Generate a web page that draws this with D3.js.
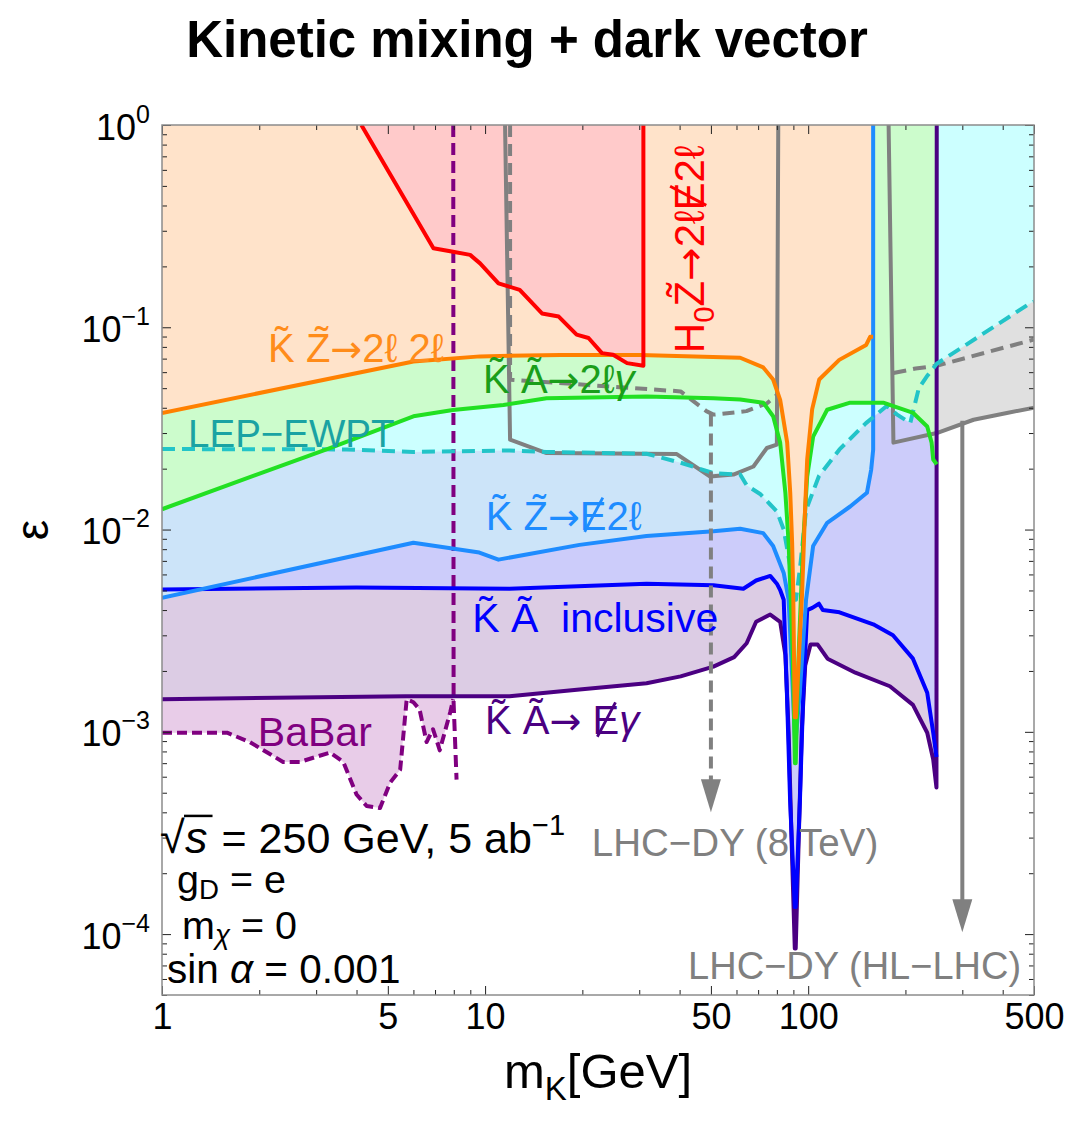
<!DOCTYPE html>
<html>
<head>
<meta charset="utf-8">
<script src="https://cdn.jsdelivr.net/npm/d3@7"></script>
<style>
  body { margin: 0; background: #fff; }
  svg { display: block; }
  text { font-family: "Liberation Sans", Arial, "DejaVu Sans", sans-serif; }
</style>
</head>
<body>
<svg id="chart" width="1073" height="1121"></svg>
<script>
// ---- reach curves: [m_K in GeV, epsilon] ----
const hzMissing = [[4.14,1],[6.92,0.246],[7.88,0.237],[8.99,0.228],[9.65,0.207],[11.0,0.165],[12.8,0.153],[15.0,0.117],[16.9,0.113],[19.2,0.092],[20.9,0.0885],[23.0,0.0745],[24.9,0.0731],[27.5,0.0665],[30.9,0.0645],[30.9,1]];
const kzFourLepton = [[1,0.0377],[6.0,0.0678],[9.65,0.0718],[17.1,0.0730],[30.2,0.0730],[61.6,0.0707],[72.6,0.0633],[77.9,0.0552],[81.9,0.0438],[86.1,0.0269],[88.0,0.0152],[89.2,0.0086],[89.9,0.0049],[90.9,0.00118],[91.6,0.00118],[95.8,0.0049],[97.8,0.0125],[99.3,0.0222],[102.9,0.0394],[108.2,0.0552],[124.8,0.0690],[151.2,0.0818],[155.5,0.0897],[158.9,0.0897]];
const kaLeptonPhoton = [[1,0.0126],[3.31,0.0253],[6.0,0.0363],[7.95,0.039],[11.4,0.0413],[15.5,0.0446],[31.6,0.0455],[50.9,0.0446],[61.6,0.0440],[72.6,0.0424],[77.9,0.0363],[81.9,0.0269],[85,0.0152],[87,0.0086],[89.5,0.0025],[91.0,0.0007],[91.5,0.0007],[93.5,0.0025],[96.5,0.0086],[99.3,0.0183],[103.6,0.0288],[114.5,0.0391],[134.9,0.0424],[170.7,0.0424],[211.4,0.0377],[233.6,0.0323],[241,0.0269],[243.8,0.0222],[250,0.021]];
const lepEwpt = [[1,0.025],[3.73,0.0249],[6,0.0242],[11.9,0.0246],[15.5,0.0242],[31.6,0.0237],[40.3,0.0214],[50.9,0.0190],[61.6,0.0187],[64.6,0.0165],[71,0.0150],[76.3,0.0133],[80,0.0123],[84,0.0100],[88,0.0066],[90.7,0.0045],[91.7,0.0045],[94.5,0.0066],[98.5,0.0125],[108,0.0184],[125,0.0249],[151,0.0336],[175,0.0408],[188,0.0371],[207,0.0336],[220,0.050],[233,0.0572],[250,0.066],[487,0.1316],[500,0.134]];
const kzMissingLepton = [[1,0.0046],[6.0,0.0086],[9.6,0.0077],[11,0.0071],[19.6,0.0084],[31.6,0.0093],[50.9,0.0098],[61.6,0.0101],[72.6,0.0096],[77.9,0.0083],[84,0.0061],[87,0.0045],[89.8,0.0015],[91.1,0.0009],[91.4,0.0009],[94,0.0015],[98.5,0.0045],[103.6,0.0083],[114.5,0.0108],[134.9,0.0130],[152,0.0152],[156.7,0.0198],[158.9,0.0248],[158.9,1]];
const kaInclusive = [[1,0.00506],[4.0,0.00517],[11.9,0.0051],[31.6,0.0054],[50.9,0.0053],[63,0.0051],[69,0.0056],[76.3,0.0059],[80,0.0054],[82,0.0050],[84,0.0045],[86,0.0015],[87.9,0.00046],[90.9,0.000136],[91.5,0.000136],[94.3,0.00046],[96.5,0.0015],[99.3,0.0040],[103,0.0041],[108,0.0043],[111,0.0040],[125,0.0039],[159,0.0034],[183,0.0030],[211,0.0023],[233.6,0.00156],[243.8,0.00099],[249.5,0.00075],[250,1]];
const kaMissingPhoton = [[1,0.00145],[5.7,0.0015],[11.9,0.0015],[19.6,0.00162],[31.6,0.00174],[40.3,0.00188],[50.9,0.0021],[59,0.00234],[64.5,0.00274],[69,0.0035],[76.3,0.0038],[81.9,0.0035],[85,0.0024],[87,0.0010],[88.8,0.0003],[90.9,0.000085],[91.5,0.000085],[93.5,0.0003],[95.5,0.0010],[97.9,0.00213],[101.7,0.0027],[107,0.0027],[114.8,0.0023],[140,0.00196],[179,0.00168],[211,0.00136],[233.6,0.00099],[243.8,0.00073],[249.5,0.00053],[250,1]];
const babar = [[1,0.00099],[1.59,0.00099],[1.87,0.00089],[2.37,0.00071],[2.67,0.00071],[3.31,0.00079],[3.64,0.00071],[4.0,0.00049],[4.3,0.00043],[4.73,0.00042],[5.08,0.00056],[5.46,0.00065],[5.72,0.00145],[6.0,0.0014],[6.27,0.00129],[6.59,0.00089],[6.9,0.00103],[7.24,0.00081],[7.8,0.00125],[7.97,0.00145]];
const babarEdge = [[7.97,1],[7.99,0.0014],[8.16,0.00058]];
const lhc8Solid = [[11.53,1],[11.95,0.0278],[15.5,0.0239],[39.2,0.0236],[49.7,0.0183],[58.7,0.0187],[67.7,0.0205],[74.5,0.0253],[80,0.0263],[80.8,1]];
const lhc8Dashed = [[11.95,1],[11.95,0.0551],[40.3,0.0482],[48.4,0.0385],[50.9,0.0370],[64.4,0.0385],[74.6,0.0421],[80.1,0.0463]];
const hlSolid = [[177.4,1],[183.6,0.0269],[250,0.0300],[325,0.0349],[412,0.0377],[500,0.0400]];
const hlDashed = [[183.6,0.0594],[215,0.0625],[250,0.0645],[500,0.087]];
// downward arrows: mass, start epsilon, tip epsilon
const lhc8Arrow = { m: 50, from: 0.037, to: 0.00040 };
const hlArrow = { m: 300, from: 0.0345, to: 0.000102 };

// ---- axis ticks ----
const xTickValues = [1, 5, 10, 50, 100, 500];
const yTickExponents = [-4, -3, -2, -1, 0];

const W = 1073, H = 1121;
const svg = d3.select("#chart");
svg.append("rect").attr("width", W).attr("height", H).attr("fill", "#fff");

const x = d3.scaleLog().domain([1, 500]).range([162, 1034]);
const y = d3.scaleLog().domain([5e-5, 1]).range([995, 125]);
const [xL, xR] = x.range(), [yB, yT] = y.range();

svg.append("defs").append("clipPath").attr("id", "plot")
  .append("rect").attr("x", xL).attr("y", yT).attr("width", xR - xL).attr("height", yB - yT);

const plot = svg.append("g").attr("clip-path", "url(#plot)");
const area = d3.area().x(d => x(d[0])).y0(y(1)).y1(d => y(d[1]));
const line = d3.line().x(d => x(d[0])).y(d => y(d[1]));

// reach regions, each filled from its bound up to the top of the frame
const fills = [
  [hlSolid, "#e0e0e0"],
  [babar, "#e8cce8"],
  [kaMissingPhoton, "#dccce4"],
  [kaInclusive, "#ccccfa"],
  [kzMissingLepton, "#cce4f9"],
  [lepEwpt, "#ccffff"],
  [kaLeptonPhoton, "#ccfccc"],
  [kzFourLepton, "#ffe3ca"],
  [hzMissing, "#ffcaca"]
];
fills.forEach(([d, c]) => plot.append("path").datum(d).attr("d", area).attr("fill", c));

// boundary curves (the inclusive curve's closing edge is left unstroked)
const strokes = [
  [lhc8Solid, "#808080", null],
  [lhc8Dashed, "#808080", "12,7"],
  [hlSolid, "#808080", null],
  [hlDashed, "#808080", "13,7"],
  [babar, "#800080", "10,5"],
  [babarEdge, "#800080", "12,6"],
  [kaMissingPhoton, "#4b0082", null],
  [kaInclusive.slice(0, -1), "#0000ff", null],
  [kzMissingLepton, "#1e8cff", null],
  [lepEwpt, "#22c4c8", "13,7"],
  [kaLeptonPhoton, "#22e022", null],
  [kzFourLepton, "#ff8000", null],
  [hzMissing, "#ff0000", null]
];
strokes.forEach(([d, c, dash]) => plot.append("path").datum(d).attr("d", line)
  .attr("fill", "none").attr("stroke", c).attr("stroke-width", 4)
  .attr("stroke-linejoin", "round").attr("stroke-dasharray", dash));

// LHC Drell-Yan arrows
function arrow(a, dash) {
  const xa = x(a.m), y0 = y(a.from), y1 = y(a.to);
  plot.append("line").attr("x1", xa).attr("x2", xa).attr("y1", y0).attr("y2", y1 - 28)
    .attr("stroke", "#808080").attr("stroke-width", 4).attr("stroke-dasharray", dash);
  plot.append("path").attr("d", `M${xa},${y1}L${xa - 10},${y1 - 33}L${xa + 10},${y1 - 33}Z`).attr("fill", "#808080");
}
arrow(lhc8Arrow, "12,7");
arrow(hlArrow, null);

// ---- frame and ticks ----
const yMinor = [];
d3.range(-5, 1).forEach(e => d3.range(2, 10).forEach(k => { const v = k * Math.pow(10, e); if (v >= 5e-5 && v <= 1) yMinor.push(v); }));
const yMajor = yTickExponents.map(e => Math.pow(10, e));
const xMinor = [];
[1, 10, 100].forEach(p => d3.range(1, 10).forEach(k => { const v = k * p; if (v <= 500 && !xTickValues.includes(v)) xMinor.push(v); }));

function ticks(axis, tx, ty) {
  const gg = svg.append("g").attr("transform", `translate(${tx},${ty})`).call(axis);
  gg.select(".domain").remove();
  gg.selectAll(".tick line").attr("stroke", "#222").attr("stroke-width", 1);
  return gg;
}
ticks(d3.axisLeft(y).tickValues(yMinor).tickSize(-5).tickFormat(""), xL, 0);
ticks(d3.axisRight(y).tickValues(yMinor).tickSize(-5).tickFormat(""), xR, 0);
ticks(d3.axisRight(y).tickValues(yMajor).tickSize(-9).tickFormat(""), xR, 0);
ticks(d3.axisBottom(x).tickValues(xMinor).tickSize(-5).tickFormat(""), 0, yB);
ticks(d3.axisTop(x).tickValues(xMinor).tickSize(-5).tickFormat(""), 0, yT);
ticks(d3.axisTop(x).tickValues(xTickValues).tickSize(-9).tickFormat(""), 0, yT);

const yAx = ticks(d3.axisLeft(y).tickValues(yMajor).tickSize(-9).tickPadding(12), xL, 0);
yAx.selectAll(".tick text").attr("font-size", 36).attr("fill", "#000")
  .attr("font-family", "Liberation Sans, Arial, sans-serif").attr("dy", 14)
  .text(null)
  .each(function (d) {
    const t = d3.select(this);
    t.append("tspan").text("10");
    const e = Math.round(Math.log10(d));
    t.append("tspan").attr("font-size", 25).attr("dy", -17).text(e < 0 ? "\u2212" + (-e) : String(e));
  });

const xAx = ticks(d3.axisBottom(x).tickValues(xTickValues).tickSize(-9).tickPadding(8).tickFormat(d3.format("d")), 0, yB);
xAx.selectAll(".tick text").attr("font-size", 36).attr("fill", "#000")
  .attr("font-family", "Liberation Sans, Arial, sans-serif");

svg.append("rect").attr("x", xL).attr("y", yT).attr("width", xR - xL).attr("height", yB - yT)
  .attr("fill", "none").attr("stroke", "#8c8c8c").attr("stroke-width", 1.5);

// ---- titles ----
svg.append("text").attr("x", 527).attr("y", 57).attr("text-anchor", "middle")
  .attr("font-family", "Lato, 'Open Sans', sans-serif").attr("font-weight", 700)
  .attr("font-size", 51).attr("fill", "#000").text("Kinetic mixing + dark vector");

svg.append("text").attr("transform", "translate(48,530) rotate(-90)").attr("text-anchor", "middle")
  .attr("font-size", 46).attr("fill", "#000").text("\u03b5");

const xt = svg.append("text").attr("x", 598).attr("y", 1088).attr("text-anchor", "middle")
  .attr("font-size", 49).attr("fill", "#000");
xt.append("tspan").text("m");
xt.append("tspan").attr("font-size", 33).attr("dy", 12).text("K");
xt.append("tspan").attr("dy", -12).text("[GeV]");

// ---- annotations ----
// parts: t = text, sub/sup = shifted small text, it = italic, arrow = long arrow glyph,
// slash = letter struck through by a drawn stroke (missing energy)
function label(spec) {
  const px = x(spec.m), py = y(spec.eps), s = spec.size;
  const g = svg.append("g");
  if (spec.rotate) g.attr("transform", `rotate(-90,${px},${py})`);
  const t = g.append("text").attr("x", px).attr("y", py)
    .attr("font-size", s).attr("fill", spec.color).style("white-space", "pre");
  let shift = 0, idx = 0;
  const struck = [];
  spec.parts.forEach(p => {
    const target = p.sub ? (p.shift || 0.25) * s : p.sup ? -0.42 * s : 0;
    const ts = t.append("tspan").attr("dy", target - shift).text(p.t);
    if (p.sub || p.sup) ts.attr("font-size", s * 0.7);
    if (p.it) ts.attr("font-style", "italic");
    if (p.arrow) ts.attr("font-family", "DejaVu Sans, sans-serif").attr("font-size", s * 0.95);
    if (p.slash) struck.push(idx);
    shift = target;
    idx += p.t.length;
  });
  struck.forEach(i => {
    const a = t.node().getStartPositionOfChar(i), b = t.node().getEndPositionOfChar(i);
    const w = b.x - a.x;
    g.append("line").attr("x1", a.x + 0.18 * w).attr("y1", a.y + 0.06 * s)
      .attr("x2", a.x + 0.86 * w).attr("y2", a.y - 0.8 * s)
      .attr("stroke", spec.color).attr("stroke-width", 0.07 * s);
  });
  return g;
}

const annotations = [
  { m: 2.13, eps: 0.0676, color: "#ff8c1a", size: 40, parts: [{ t: "K\u0303 Z\u0303" }, { t: "\u2192", arrow: true }, { t: "2\u2113 2\u2113" }] },
  { m: 9.86, eps: 0.0475, color: "#1a9e1a", size: 40, parts: [{ t: "K\u0303 A\u0303" }, { t: "\u2192", arrow: true }, { t: "2\u2113" }, { t: "\u03b3", it: true }] },
  { m: 1.204, eps: 0.0257, color: "#1aa3a3", size: 38.5, parts: [{ t: "LEP\u2212EWPT" }] },
  { m: 10.05, eps: 0.0100, color: "#1e8cff", size: 40, parts: [{ t: "K\u0303 Z\u0303" }, { t: "\u2192", arrow: true }, { t: "E", slash: true }, { t: "2\u2113" }] },
  { m: 9.12, eps: 0.00313, color: "#0000ff", size: 41, parts: [{ t: "K\u0303 A\u0303\u00a0\u00a0inclusive" }] },
  { m: 10.0, eps: 0.000972, color: "#4b0082", size: 40, parts: [{ t: "K\u0303 A\u0303" }, { t: "\u2192", arrow: true }, { t: "\u00a0" }, { t: "E", slash: true }, { t: "\u03b3", it: true }] },
  { m: 1.98, eps: 0.000848, color: "#800080", size: 41, parts: [{ t: "BaBar" }] },
  { m: 47.5, eps: 0.0745, color: "#ff0000", size: 42, rotate: true, parts: [{ t: "H" }, { t: "0", sub: true }, { t: "Z\u0303" }, { t: "\u2192", arrow: true }, { t: "2\u2113" }, { t: "E", slash: true }, { t: "2\u2113" }] },
  { m: 21.4, eps: 0.000243, color: "#808080", size: 38.5, parts: [{ t: "LHC\u2212DY (8 TeV)" }] },
  { m: 42.5, eps: 0.000060, color: "#808080", size: 38, parts: [{ t: "LHC\u2212DY (HL\u2212LHC)" }] },
  { m: 1.113, eps: 0.000160, color: "#000", size: 39.5, parts: [{ t: "g" }, { t: "D", sub: true, shift: 0.15 }, { t: " = e" }] },
  { m: 1.153, eps: 0.0000945, color: "#000", size: 39.5, parts: [{ t: "m" }, { t: "\u03c7", sub: true, it: true, shift: 0.12 }, { t: " = 0" }] },
  { m: 1.036, eps: 0.000057, color: "#000", size: 40.5, parts: [{ t: "sin " }, { t: "\u03b1", it: true }, { t: " = 0.001" }] }
];
annotations.forEach(label);

// collider setup line with a drawn radical bar
const rootX = x(0.986), rootY = y(0.000252);
const rootSign = svg.append("text").attr("x", rootX).attr("y", rootY).attr("font-size", 45).attr("fill", "#000").text("\u221a");
const rb = rootSign.node().getBBox();
const sText = svg.append("text").attr("x", rb.x + rb.width).attr("y", rootY).attr("font-size", 45)
  .attr("font-style", "italic").attr("fill", "#000").text("s");
const sb = sText.node().getBBox();
svg.append("line").attr("x1", rb.x + rb.width - 1).attr("x2", sb.x + sb.width + 5)
  .attr("y1", rb.y + 4).attr("y2", rb.y + 4).attr("stroke", "#000").attr("stroke-width", 2.5);
const rest = svg.append("text").attr("x", sb.x + sb.width + 14).attr("y", rootY).attr("font-size", 43).attr("fill", "#000");
rest.append("tspan").text("= 250 GeV, 5 ab");
rest.append("tspan").attr("font-size", 29).attr("dy", -18).text("\u22121");
</script>
</body>
</html>
